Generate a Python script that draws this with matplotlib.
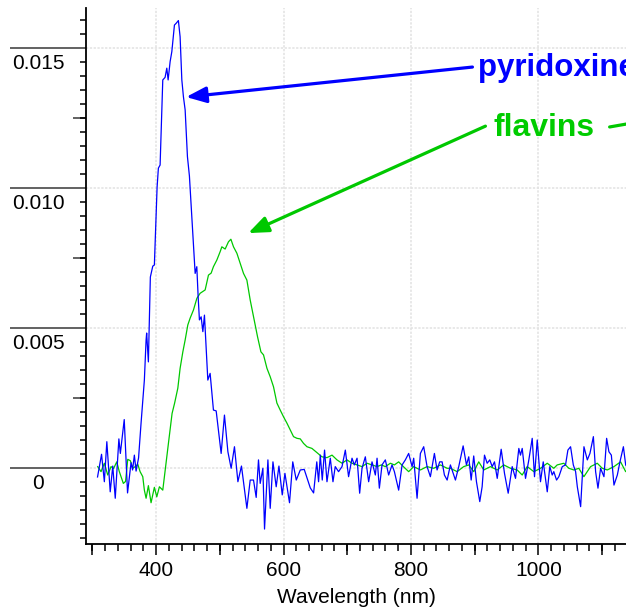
import matplotlib
matplotlib.use('Agg')
import matplotlib.pyplot as plt
from matplotlib.ticker import MultipleLocator, NullFormatter
import numpy as np

plt.rcParams['font.family'] = ['Liberation Sans', 'DejaVu Sans']

# ---- data (absorbance in units of 1e-3) ----
wl_pyr = [308.1, 314.4, 318.8, 322.7, 328.0, 332.0, 335.9, 341.6, 343.9, 350.0,
          355.2, 360.7, 363.1, 365.9, 368.6, 372.5, 376.4, 381.6, 384.3, 385.2,
          387.9, 391.0, 394.8, 397.3, 401.6, 403.6, 406.3, 410.5, 414.1, 416.8,
          418.9, 422.0, 424.7, 428.8, 431.4, 433.5, 435.0, 437.7, 440.4, 442.9,
          445.6, 449.2, 452.3, 457.7, 461.3, 463.9, 466.0, 468.0, 470.7, 473.4,
          475.9, 478.6, 481.2, 484.8, 490.0, 494.3, 502.1, 507.3, 512.7, 517.8,
          523.0, 528.4, 534.0, 542.5, 547.7, 552.9, 557.1, 560.7, 563.4, 567.6,
          570.2, 575.5, 579.1, 583.4, 588.5, 592.8, 598.0, 602.2, 609.4, 614.5,
          620.0, 626.3, 632.5, 642.0, 647.2, 652.2, 655.0, 657.7, 660.8, 664.4,
          668.2, 673.4, 677.6, 681.2, 686.4, 691.8, 697.0, 702.1, 707.5, 711.1,
          715.4, 719.5, 723.2, 728.4, 733.6, 738.9, 744.1, 746.8, 750.4, 754.6,
          759.8, 765.0, 770.3, 774.0, 780.7, 786.1, 791.2, 796.4, 801.8, 804.3,
          809.6, 814.8, 820.0, 825.3, 830.5, 836.8, 841.0, 845.1, 848.9, 852.5,
          856.8, 861.9, 869.8, 875.0, 881.9, 887.1, 890.7, 894.5, 898.5, 902.8,
          908.0, 911.7, 915.4, 919.6, 923.7, 927.5, 931.1, 935.4, 941.6, 946.8,
          952.6, 958.9, 964.1, 969.3, 971.9, 974.6, 979.8, 985.0, 990.3, 993.9,
          998.2, 1003.3, 1007.6, 1013.9, 1017.9, 1021.7, 1024.2, 1028.5, 1032.1, 1037.5,
          1042.6, 1046.3, 1050.5, 1054.8, 1058.4, 1061.1, 1066.3, 1071.5, 1076.8, 1080.9,
          1086.3, 1089.8, 1093.5, 1097.6, 1102.9, 1107.1, 1110.7, 1114.5, 1118.6, 1123.9,
          1128.0, 1133.4, 1137.0, 1141.6]
abs_pyr = [-0.32, 0.49, -0.49, 0.94, -0.85, 0.07, -1.08, 1.04, 0.52, 1.73,
           -0.89, 0.19, -0.07, 0.46, -0.11, 0.36, 1.60, 3.14, 4.57, 4.82,
           3.79, 6.82, 7.21, 7.25, 10.04, 10.71, 10.82, 13.86, 13.95, 14.28,
           13.86, 14.51, 14.87, 15.82, 15.88, 15.94, 15.98, 15.40, 13.86, 13.26,
           12.79, 11.12, 10.43, 8.38, 6.95, 7.19, 6.12, 5.29, 5.40, 4.87,
           5.46, 4.27, 3.14, 3.38, 2.07, 2.04, 0.52, 1.89, 0.58, -0.01,
           0.76, -0.49, 0.07, -1.44, -0.43, -0.43, -1.05, 0.29, -0.55, -0.01,
           -2.18, 0.29, -1.44, 0.22, -0.67, 0.07, -0.96, -0.19, -1.24, 0.22,
           -0.43, -0.07, -0.05, -0.71, -0.89, 0.22, -0.49, 0.46, -0.43, 0.64,
           -0.49, 0.35, -0.49, 0.05, -0.13, 0.05, 0.64, -0.31, 0.35, 0.11,
           0.35, -0.90, -0.01, 0.40, -0.49, 0.22, -0.25, 0.35, -0.72, 0.11,
           0.29, -0.25, 0.11, -0.13, -0.79, 0.11, 0.29, 0.52, 0.05, 0.35,
           -1.08, 0.52, 0.76, 0.05, -0.31, 0.52, -0.07, 0.22, 0.22, -0.25,
           -0.43, 0.11, -0.43, 0.05, 0.79, 0.11, 0.40, -0.43, 0.43, -0.49,
           -1.20, -0.67, 0.46, 0.17, 0.29, 0.05, 0.22, -0.37, 0.67, -0.19,
           -0.90, 0.05, -0.37, 0.70, 0.46, 0.70, -0.37, 0.29, 1.06, -0.31,
           1.00, -0.49, 0.22, -0.85, 0.05, -0.25, -0.13, -0.43, -0.31, 0.05,
           0.11, 0.64, 0.76, 0.11, -0.13, -0.67, -1.38, 0.76, 0.29, 0.52,
           1.12, -0.13, -0.72, -0.01, -0.31, 1.06, 0.58, 0.46, -0.61, -0.25,
           0.22, 0.76, 0.11, -0.07]

wl_flv = [308.4, 313.6, 318.8, 324.1, 329.3, 333.2, 338.3, 342.3, 348.6, 352.1,
          355.5, 359.6, 363.4, 368.6, 371.2, 374.9, 379.1, 381.6, 384.3, 387.9,
          392.1, 397.3, 401.1, 405.2, 410.5, 414.6, 420.0, 425.1, 429.1, 434.1,
          437.7, 442.0, 445.6, 449.8, 453.4, 458.6, 464.0, 469.1, 477.0, 482.2,
          486.4, 490.0, 495.4, 500.6, 503.2, 508.4, 513.6, 517.4, 521.5, 526.8,
          532.0, 537.2, 542.5, 547.7, 552.9, 559.2, 564.5, 568.6, 574.0, 579.1,
          584.3, 589.6, 594.8, 600.0, 605.4, 610.5, 615.7, 621.1, 626.3, 631.4,
          636.8, 644.6, 652.5, 660.3, 668.2, 676.1, 683.9, 691.8, 699.6, 707.5,
          715.4, 723.2, 731.1, 738.9, 746.8, 753.5, 759.8, 767.7, 774.0, 780.7,
          788.1, 796.4, 804.3, 814.8, 825.3, 835.7, 846.2, 856.8, 861.9, 872.5,
          882.8, 890.7, 898.5, 906.4, 914.3, 924.8, 935.3, 945.7, 956.2, 966.7,
          974.6, 982.4, 992.9, 1003.3, 1013.9, 1024.2, 1029.5, 1039.9, 1047.8, 1055.7,
          1063.5, 1071.4, 1081.9, 1092.4, 1100.2, 1108.1, 1118.6, 1129.0, 1137.0, 1142.0]
abs_flv = [0.05, -0.13, 0.17, -0.25, 0.05, -0.02, 0.22, -0.13, -0.55, -0.48,
           0.31, 0.26, -0.01, 0.07, 0.14, -0.13, -0.31, -0.79, -1.08, -0.63,
           -1.24, -0.69, -1.03, -0.67, -0.79, -0.01, 1.00, 1.95, 2.32, 2.85,
           3.56, 4.15, 4.57, 5.11, 5.35, 5.64, 6.06, 6.24, 6.36, 6.89,
           6.96, 7.19, 7.43, 7.73, 7.90, 7.82, 8.08, 8.17, 7.90, 7.67,
           7.31, 6.95, 6.71, 6.00, 5.40, 4.69, 4.15, 4.04, 3.56, 3.26,
           2.90, 2.32, 2.07, 1.83, 1.60, 1.36, 1.12, 1.06, 1.04, 0.88,
           0.76, 0.70, 0.55, 0.40, 0.37, 0.46, 0.29, 0.17, 0.29, 0.17,
           0.11, 0.05, 0.17, 0.11, 0.05, 0.11, 0.05, 0.17, 0.11, 0.22,
           0.05, -0.13, 0.05, -0.07, 0.05, -0.01, 0.11, -0.01, -0.01, -0.13,
           0.05, 0.11, -0.13, 0.22, -0.07, 0.05, -0.07, 0.11, -0.01, -0.07,
           -0.25, 0.05, -0.13, -0.01, 0.17, -0.01, 0.11, 0.17, -0.01, -0.07,
           -0.01, -0.31, 0.05, 0.17, -0.01, -0.07, 0.05, 0.22, -0.13, 0.0]

x_labeled = [400, 600, 800, 1000]
x_mid = [300, 500, 700, 900, 1100]
y_labeled = [0, 0.005, 0.010, 0.015]
y_labels = ['0', '0.005', '0.010', '0.015']
y_mid = [0.0025, 0.0075, 0.0125]

blue = '#0000ff'
green = '#00c800'

# ---- figure ----
fig = plt.figure(figsize=(6.26, 6.10), dpi=100)
ax = fig.add_axes([86 / 626, 66 / 610, 540 / 626, 536 / 610])

ax.plot(wl_flv, np.array(abs_flv) * 1e-3, color=green, lw=0.9, zorder=3)
ax.plot(wl_pyr, np.array(abs_pyr) * 1e-3, color=blue, lw=0.9, zorder=4)

ax.set_xlim(290, 1137.5)
ax.set_ylim(-0.002714, 0.016429)

for s in ['top', 'right']:
    ax.spines[s].set_visible(False)
for s in ['left', 'bottom']:
    ax.spines[s].set_linewidth(1.3)

# x axis ticks
ax.set_xticks(x_labeled)
ax.xaxis.set_minor_locator(MultipleLocator(20))
ax.tick_params(axis='x', which='major', length=8, width=1.1, pad=4, labelsize=15)
ax.tick_params(axis='x', which='minor', length=5, width=1.1)
sec_x = ax.secondary_xaxis('bottom')
sec_x.set_xticks(x_mid)
sec_x.xaxis.set_major_formatter(NullFormatter())
sec_x.tick_params(length=8, width=1.1)
sec_x.spines['bottom'].set_visible(False)

# y axis ticks: long lines, labels placed underneath
ax.set_yticks(y_labeled)
ax.set_yticklabels([])
ax.yaxis.set_minor_locator(MultipleLocator(0.0005))
ax.tick_params(axis='y', which='major', length=55, width=1.3, color='#555555')
ax.tick_params(axis='y', which='minor', length=4.3, width=1.1)
sec_y = ax.secondary_yaxis('left')
sec_y.set_yticks(y_mid)
sec_y.yaxis.set_major_formatter(NullFormatter())
sec_y.tick_params(length=9.5, width=1.3, color='#555555')
sec_y.spines['left'].set_visible(False)

for v, lbl in zip(y_labeled, y_labels):
    ax.annotate(lbl, xy=(-48 / 540, v), xycoords=('axes fraction', 'data'),
                xytext=(0, -15), textcoords='offset points',
                ha='center', va='baseline', fontsize=15, annotation_clip=False)

ax.grid(True, which='major', color='#e2e2e2', linestyle=(0, (1.5, 1)), linewidth=1.1)
ax.set_axisbelow(True)

ax.set_xlabel('Wavelength (nm)', fontsize=15, labelpad=6)

# ---- annotations ----
head = '-|>,head_length=0.55,head_width=0.22'
ax.text(905, 0.01429, 'pyridoxine', color=blue, fontsize=22.5, fontweight='bold',
        ha='left', va='center', zorder=5)
ax.annotate('', xy=(447.1, 0.01325), xytext=(896.5, 0.01432),
            arrowprops=dict(arrowstyle=head, color=blue, lw=2.3, mutation_scale=22,
                            shrinkA=0, shrinkB=0))
ax.text(929.5, 0.01214, 'flavins', color='#00cc00', fontsize=23, fontweight='bold',
        ha='left', va='center', zorder=5)
ax.annotate('', xy=(544.6, 0.00839), xytext=(916.9, 0.01221),
            arrowprops=dict(arrowstyle=head, color=green, lw=2.3, mutation_scale=22,
                            shrinkA=0, shrinkB=0))
ax.annotate('', xy=(1254.7, 0.01275), xytext=(1111.8, 0.01218),
            arrowprops=dict(arrowstyle='-', color=green, lw=2.3, shrinkA=0, shrinkB=0),
            annotation_clip=False)

plt.savefig('out.png', dpi=100)
